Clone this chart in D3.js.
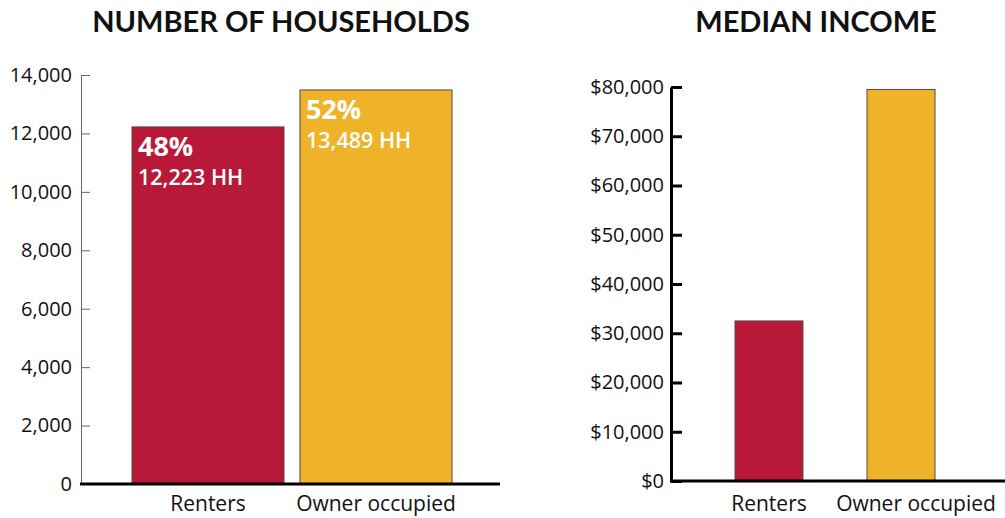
<!DOCTYPE html>
<html>
<head>
<meta charset="utf-8">
<script src="https://cdn.jsdelivr.net/npm/d3@7"></script>
<style>
  body { margin: 0; background: #fff; }
  text { font-family: 'Open Sans', sans-serif; }
</style>
</head>
<body>
<div class="svgcontainer"></div>
<script>
// data
const categories = ['Renters', 'Owner occupied'];
const households = [12223, 13489];
const householdShare = ['48%', '52%'];
const householdLabels = ['12,223 HH', '13,489 HH'];
const medianIncome = [32500, 79500];
const householdTicks = [0, 2000, 4000, 6000, 8000, 10000, 12000, 14000];
const incomeTicks = [0, 10000, 20000, 30000, 40000, 50000, 60000, 70000, 80000];
const colors = ['#b81939', '#efb329'];

const svg = d3
  .select('.svgcontainer')
  .append('svg')
  .attr('width', 1005)
  .attr('height', 518);

// ---- left chart: number of households
const x0 = d3
  .scaleBand()
  .domain(categories)
  .range([124, 460])
  .paddingInner(0.0952)
  .paddingOuter(0.0476);

const y0 = d3.scaleLinear().domain([0, 14000]).range([484, 75]);

const left = svg.append('g');

left
  .selectAll('rect')
  .data(households)
  .enter()
  .append('rect')
  .attr('x', (d, i) => x0(categories[i]))
  .attr('y', d => y0(d))
  .attr('width', x0.bandwidth())
  .attr('height', d => y0(0) - y0(d))
  .attr('fill', (d, i) => colors[i])
  .attr('stroke', '#5a4646')
  .attr('stroke-width', 1);

const yAxisL = left
  .append('g')
  .attr('transform', 'translate(81,0)')
  .call(
    d3
      .axisLeft(y0)
      .tickValues(householdTicks)
      .tickFormat(d3.format(','))
      .tickSizeInner(-9)
      .tickSizeOuter(0)
      .tickPadding(9),
  );
yAxisL.select('.domain').attr('stroke', '#666');
yAxisL.selectAll('.tick line').attr('stroke', '#666');
yAxisL
  .selectAll('.tick text')
  .attr('fill', '#111')
  .style('font-size', '20px')
  .style('font-family', "'Open Sans', sans-serif");

left
  .append('line')
  .attr('x1', 80)
  .attr('x2', 500)
  .attr('y1', y0(0))
  .attr('y2', y0(0))
  .attr('stroke', '#000')
  .attr('stroke-width', 3);

left
  .selectAll('.cat')
  .data(categories)
  .enter()
  .append('text')
  .attr('class', 'cat')
  .attr('x', d => x0(d) + x0.bandwidth() / 2)
  .attr('y', 511)
  .attr('text-anchor', 'middle')
  .style('font-size', '21px')
  .attr('fill', '#111')
  .text(d => d);

left
  .selectAll('.share')
  .data(householdShare)
  .enter()
  .append('text')
  .attr('class', 'share')
  .attr('x', (d, i) => x0(categories[i]) + 6)
  .attr('y', (d, i) => y0(households[i]) + 29)
  .attr('fill', '#fff')
  .style('font-size', '27px')
  .style('font-weight', 'bold')
  .text(d => d);

left
  .selectAll('.hh')
  .data(householdLabels)
  .enter()
  .append('text')
  .attr('class', 'hh')
  .attr('x', (d, i) => x0(categories[i]) + 6)
  .attr('y', (d, i) => y0(households[i]) + 58)
  .attr('fill', '#fff')
  .style('font-size', '21.5px')
  .style('font-weight', '600')
  .text(d => d);

left
  .append('text')
  .attr('x', 281)
  .attr('y', 32)
  .attr('text-anchor', 'middle')
  .style('font-family', "Lato, sans-serif")
  .style('font-size', '29px')
  .style('font-weight', 'bold')
  .attr('fill', '#111')
  .text('NUMBER OF HOUSEHOLDS');

// ---- right chart: median income
const x1 = d3
  .scaleBand()
  .domain(categories)
  .range([703, 967])
  .paddingInner(0.485)
  .paddingOuter(0.2424);

const y1 = d3.scaleLinear().domain([0, 80000]).range([481, 87]);

const right = svg.append('g');

right
  .selectAll('rect')
  .data(medianIncome)
  .enter()
  .append('rect')
  .attr('x', (d, i) => x1(categories[i]))
  .attr('y', d => y1(d))
  .attr('width', x1.bandwidth())
  .attr('height', d => y1(0) - y1(d))
  .attr('fill', (d, i) => colors[i])
  .attr('stroke', '#5a4646')
  .attr('stroke-width', 1);

const yAxisR = right
  .append('g')
  .attr('transform', 'translate(671,0)')
  .call(
    d3
      .axisLeft(y1)
      .tickValues(incomeTicks)
      .tickFormat(d => '$' + d3.format(',')(d))
      .tickSizeInner(-11)
      .tickSizeOuter(0)
      .tickPadding(7),
  );
yAxisR.select('.domain').attr('stroke', '#000').attr('stroke-width', 3);
yAxisR.selectAll('.tick line').attr('stroke', '#000').attr('stroke-width', 3);
yAxisR
  .selectAll('.tick text')
  .attr('fill', '#111')
  .style('font-size', '20px')
  .style('font-family', "'Open Sans', sans-serif");

right
  .append('line')
  .attr('x1', 670)
  .attr('x2', 1005)
  .attr('y1', y1(0))
  .attr('y2', y1(0))
  .attr('stroke', '#000')
  .attr('stroke-width', 3);

right
  .selectAll('.cat')
  .data(categories)
  .enter()
  .append('text')
  .attr('class', 'cat')
  .attr('x', (d, i) => x1(d) + x1.bandwidth() / 2 + (i === 1 ? 15 : 0))
  .attr('y', 511)
  .attr('text-anchor', 'middle')
  .style('font-size', '21px')
  .attr('fill', '#111')
  .text(d => d);

right
  .append('text')
  .attr('x', 816)
  .attr('y', 32)
  .attr('text-anchor', 'middle')
  .style('font-family', "Lato, sans-serif")
  .style('font-size', '29px')
  .style('font-weight', 'bold')
  .attr('fill', '#111')
  .text('MEDIAN INCOME');
</script>
</body>
</html>
